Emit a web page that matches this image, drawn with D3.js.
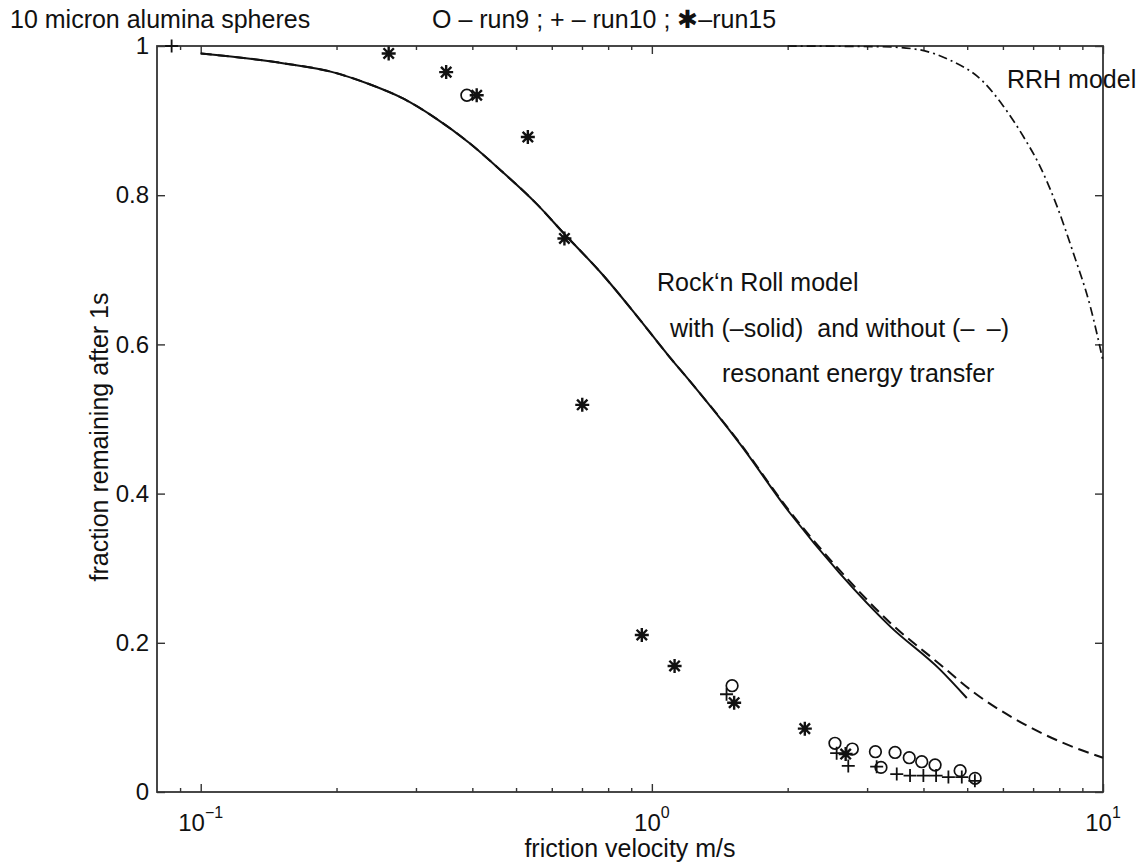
<!DOCTYPE html>
<html>
<head>
<meta charset="utf-8">
<script src="https://cdn.jsdelivr.net/npm/d3@7"></script>
<style>
  html, body { margin: 0; padding: 0; background: #fff; }
  svg { display: block; font-family: "Liberation Sans", Arial, Helvetica, sans-serif; }
  text { fill: #111; }
</style>
</head>
<body>
<svg id="chart" width="1141" height="863"></svg>
<script>
// ---------- data ----------
const run9X = [0.389, 1.506, 2.546, 2.782, 3.13, 3.22, 3.46, 3.72, 3.965, 4.244, 4.823, 5.206];
const run9Y = [0.934, 0.1425, 0.0653, 0.0576, 0.054, 0.033, 0.053, 0.046, 0.0406, 0.0362, 0.0286, 0.0183];

const run10X = [0.0862, 1.464, 2.568, 2.725, 3.15, 3.49, 3.735, 3.998, 4.266, 4.543, 4.864, 5.2];
const run10Y = [1.0, 0.131, 0.052, 0.035, 0.034, 0.024, 0.022, 0.022, 0.022, 0.020, 0.020, 0.015];

const run15X = [0.261, 0.350, 0.409, 0.531, 0.640, 0.701, 0.950, 1.123, 1.522, 2.183, 2.689];
const run15Y = [0.990, 0.965, 0.934, 0.878, 0.742, 0.519, 0.2105, 0.169, 0.1197, 0.0849, 0.0509];

const rnrSolidX = [0.1, 0.152, 0.196, 0.236, 0.280, 0.332, 0.394, 0.467, 0.554, 0.640, 0.779, 0.924, 1.095, 1.213, 1.566, 2.023, 2.61, 3.373, 4.354, 4.99];
const rnrSolidY = [0.990, 0.977, 0.965, 0.949, 0.930, 0.903, 0.870, 0.831, 0.789, 0.748, 0.693, 0.639, 0.583, 0.551, 0.467, 0.374, 0.293, 0.222, 0.164, 0.126];

const rnrDashX = [0.1, 0.152, 0.196, 0.236, 0.280, 0.332, 0.394, 0.467, 0.554, 0.640, 0.779, 0.924, 1.095, 1.213, 1.566, 2.023, 2.61, 3.373, 4.354, 5.16, 6.33, 8.0, 10];
const rnrDashY = [0.990, 0.977, 0.965, 0.949, 0.930, 0.903, 0.870, 0.831, 0.789, 0.748, 0.693, 0.639, 0.583, 0.551, 0.468, 0.376, 0.297, 0.227, 0.171, 0.134, 0.099, 0.068, 0.046];

const rrhX = [2.0, 3.26, 3.87, 4.58, 5.43, 6.02, 6.67, 7.26, 7.91, 8.6, 9.37, 10];
const rrhY = [1.0, 0.999, 0.9955, 0.981, 0.952, 0.919, 0.878, 0.838, 0.785, 0.722, 0.651, 0.578];

const xMajorTicks = [0.1, 1, 10];
const xMajorExp = ["\u22121", "0", "1"];
const xMinorTicks = [0.09, 0.2, 0.3, 0.4, 0.5, 0.6, 0.7, 0.8, 0.9, 2, 3, 4, 5, 6, 7, 8, 9];
const yTicks = [0, 0.2, 0.4, 0.6, 0.8, 1];
const yTickLabels = ["0", "0.2", "0.4", "0.6", "0.8", "1"];

// ---------- layout ----------
const L = 157, R = 1103, T = 46, B = 792;
const svg = d3.select("#chart");
const x = d3.scaleLog().domain([0.08, 10]).range([L, R]);
const y = d3.scaleLinear().domain([0, 1]).range([B, T]);
const AX = "#333";

function styleAxis(g) {
  g.select(".domain").remove();
  g.selectAll(".tick line").attr("stroke", AX).attr("stroke-width", 1.4);
  g.selectAll(".tick text").attr("font-size", 24).attr("fill", "#111")
    .attr("font-family", '"Liberation Sans", Arial, sans-serif');
}

// x axes bottom/top (ticks inward)
svg.append("g").attr("transform", `translate(0,${B})`)
  .call(d3.axisBottom(x).tickValues(xMajorTicks).tickSizeInner(-8).tickSizeOuter(0).tickFormat(""))
  .call(styleAxis);
svg.append("g").attr("transform", `translate(0,${B})`)
  .call(d3.axisBottom(x).tickValues(xMinorTicks).tickSizeInner(-4).tickSizeOuter(0).tickFormat(""))
  .call(styleAxis);
svg.append("g").attr("transform", `translate(0,${T})`)
  .call(d3.axisTop(x).tickValues(xMajorTicks).tickSizeInner(-8).tickSizeOuter(0).tickFormat(""))
  .call(styleAxis);
svg.append("g").attr("transform", `translate(0,${T})`)
  .call(d3.axisTop(x).tickValues(xMinorTicks).tickSizeInner(-4).tickSizeOuter(0).tickFormat(""))
  .call(styleAxis);

// y axes
svg.append("g").attr("transform", `translate(${L},0)`)
  .call(d3.axisLeft(y).tickValues(yTicks).tickSizeInner(-8).tickSizeOuter(0).tickPadding(8)
    .tickFormat((d, i) => yTickLabels[i]))
  .call(styleAxis);
svg.append("g").attr("transform", `translate(${R},0)`)
  .call(d3.axisRight(y).tickValues(yTicks).tickSizeInner(-8).tickSizeOuter(0).tickFormat(""))
  .call(styleAxis);

// box
svg.append("rect").attr("x", L).attr("y", T).attr("width", R - L).attr("height", B - T)
  .attr("fill", "none").attr("stroke", AX).attr("stroke-width", 1.8);

// x tick labels with superscripts
xMajorTicks.forEach((v, i) => {
  const t = svg.append("text").attr("x", x(v)).attr("y", 831)
    .attr("text-anchor", "middle").attr("font-size", 24);
  t.append("tspan").text("10");
  t.append("tspan").attr("dy", -13).attr("font-size", 16).text(xMajorExp[i]);
});

// ---------- curves ----------
function mkLine(xs, ys) {
  return d3.line().x(d => x(d[0])).y(d => y(d[1])).curve(d3.curveMonotoneX)(xs.map((v, i) => [v, ys[i]]));
}
svg.append("path").attr("d", mkLine(rnrDashX, rnrDashY)).attr("fill", "none")
  .attr("stroke", "#111").attr("stroke-width", 2).attr("stroke-dasharray", "11,6");
svg.append("path").attr("d", mkLine(rnrSolidX, rnrSolidY)).attr("fill", "none")
  .attr("stroke", "#111").attr("stroke-width", 2);
svg.append("path").attr("d", mkLine(rrhX, rrhY)).attr("fill", "none")
  .attr("stroke", "#111").attr("stroke-width", 1.7).attr("stroke-dasharray", "9,4,2,4");

// ---------- markers ----------
const mk = svg.append("g").attr("stroke", "#111").attr("fill", "none");
run9X.forEach((v, i) => {
  mk.append("circle").attr("cx", x(v)).attr("cy", y(run9Y[i])).attr("r", 5.8).attr("stroke-width", 1.7);
});
run10X.forEach((v, i) => {
  const cx = x(v), cy = y(run10Y[i]), s = 6.5;
  mk.append("path").attr("d", `M${cx - s},${cy}H${cx + s}M${cx},${cy - s}V${cy + s}`).attr("stroke-width", 1.8);
});
run15X.forEach((v, i) => {
  const cx = x(v), cy = y(run15Y[i]), s = 7, d = 5.2;
  mk.append("path").attr("d",
    `M${cx - s},${cy}H${cx + s}M${cx},${cy - s}V${cy + s}` +
    `M${cx - d},${cy - d}L${cx + d},${cy + d}M${cx - d},${cy + d}L${cx + d},${cy - d}`)
    .attr("stroke-width", 2.4);
});

// ---------- texts ----------
svg.append("text").attr("x", 10).attr("y", 28).attr("font-size", 25).text("10 micron alumina spheres");
svg.append("text").attr("x", 432).attr("y", 28).attr("font-size", 25)
  .text("O \u2013 run9 ; + \u2013 run10 ; \u2731\u2013run15");
svg.append("text").attr("x", 630).attr("y", 857).attr("text-anchor", "middle").attr("font-size", 25)
  .text("friction velocity m/s");
svg.append("text").attr("transform", "translate(108,437) rotate(-90)").attr("text-anchor", "middle")
  .attr("font-size", 25).text("fraction remaining after 1s");

svg.append("text").attr("x", 657).attr("y", 291).attr("font-size", 25).text("Rock\u2018n Roll model");
svg.append("text").attr("x", 670).attr("y", 337).attr("font-size", 25).attr("xml:space", "preserve")
  .style("white-space", "pre").text("with (\u2013solid)  and without (\u2013\u2002\u2013)");
svg.append("text").attr("x", 722).attr("y", 382).attr("font-size", 25).text("resonant energy transfer");
svg.append("text").attr("x", 1007).attr("y", 88).attr("font-size", 25).text("RRH model");
</script>
</body>
</html>
